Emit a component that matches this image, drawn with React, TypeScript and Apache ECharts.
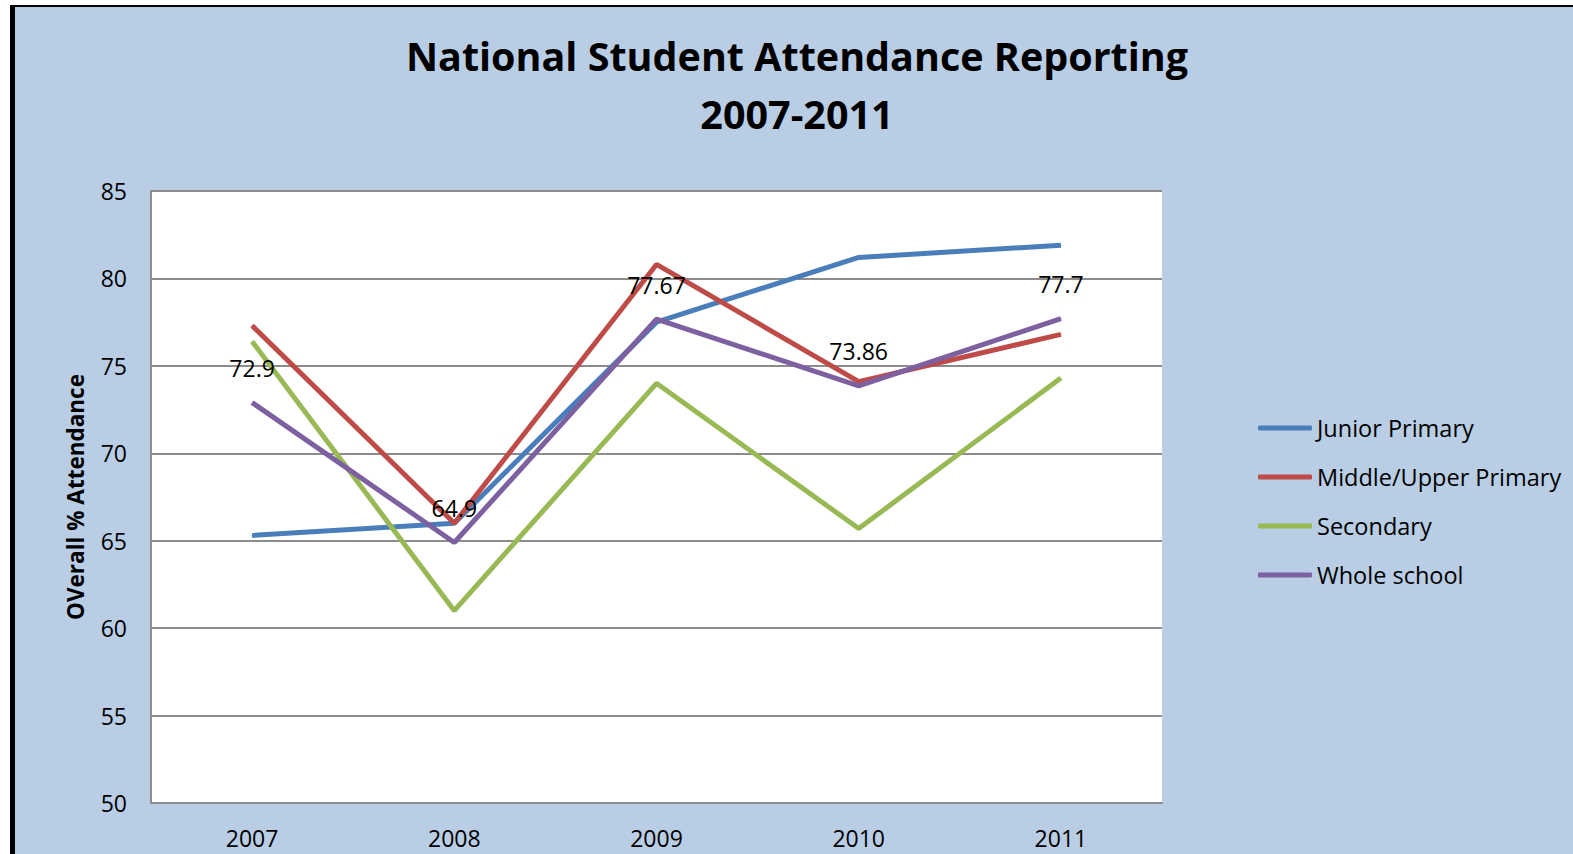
import React, { useEffect, useRef } from "react";
import * as echarts from "echarts";

const years = ["2007", "2008", "2009", "2010", "2011"];
const juniorPrimary = [65.3, 66.0, 77.5, 81.2, 81.9];
const middleUpperPrimary = [77.3, 66.0, 80.8, 74.1, 76.8];
const secondary = [76.4, 61.0, 74.0, 65.7, 74.3];
const wholeSchool = [72.9, 64.9, 77.67, 73.86, 77.7];
const seriesNames = ["Junior Primary", "Middle/Upper Primary", "Secondary", "Whole school"];
const seriesColors = ["#4A7EBB", "#BE4B48", "#98B954", "#7D60A0"];

const FONT = "'Open Sans', Lato, sans-serif";

export default function App() {
  const ref = useRef<HTMLDivElement>(null);
  useEffect(() => {
    if (!ref.current) return;
    const chart = echarts.init(ref.current, undefined, { renderer: "svg" });
    const data = [juniorPrimary, middleUpperPrimary, secondary, wholeSchool];
    chart.setOption({
      animation: false,
      backgroundColor: "#B9CDE5",
      textStyle: { fontFamily: FONT },
      title: {
        text: "National Student Attendance Reporting\n2007-2011",
        left: 782,
        top: 20,
        padding: 0,
        textAlign: "center",
        textStyle: {
          fontFamily: FONT,
          fontSize: 39.5,
          fontWeight: "bold",
          lineHeight: 58,
          color: "#000",
        },
      },
      grid: {
        left: 136,
        right: 411,
        top: 184,
        bottom: 51,
        show: true,
        backgroundColor: "#fff",
        borderWidth: 0,
      },
      legend: {
        orient: "vertical",
        left: 1238,
        top: 404,
        icon: "roundRect",
        itemWidth: 54,
        itemHeight: 5,
        itemGap: 25,
        data: seriesNames,
        textStyle: { fontFamily: FONT, fontSize: 23.5, color: "#000" },
      },
      xAxis: {
        type: "category",
        data: years,
        boundaryGap: true,
        axisLine: { show: true, lineStyle: { color: "#8c8c8c", width: 2 } },
        axisTick: { show: false },
        axisLabel: { fontFamily: FONT, fontSize: 23, color: "#000", margin: 23 },
      },
      yAxis: {
        type: "value",
        min: 50,
        max: 85,
        interval: 5,
        name: "OVerall % Attendance",
        nameLocation: "middle",
        nameRotate: 90,
        nameGap: 64,
        nameTextStyle: { fontFamily: FONT, fontSize: 22.5, fontWeight: "bold", color: "#000" },
        axisLine: { show: true, lineStyle: { color: "#8c8c8c", width: 2 } },
        axisTick: { show: false },
        axisLabel: { fontFamily: FONT, fontSize: 23, color: "#000", margin: 24 },
        splitLine: { show: true, lineStyle: { color: "#8c8c8c", width: 2 } },
      },
      series: seriesNames.map((name, i) => ({
        name,
        type: "line",
        data: data[i],
        symbol: "circle",
        symbolSize: 1,
        showSymbol: true,
        color: seriesColors[i],
        itemStyle: { color: seriesColors[i] },
        lineStyle: { color: seriesColors[i], width: 5 },
        z: 3 + i,
        label:
          i === 3
            ? {
                show: true,
                position: "top",
                distance: 22.5,
                fontFamily: FONT,
                fontSize: 23,
                color: "#000",
              }
            : { show: false },
      })),
    });
    return () => chart.dispose();
  }, []);

  return (
    <div
      style={{
        position: "absolute",
        left: 0,
        top: 0,
        width: 1573,
        height: 854,
        background: "#fff",
        overflow: "hidden",
      }}
    >
      <div
        style={{
          position: "absolute",
          left: 10,
          top: 5,
          width: 1563,
          height: 849,
          borderLeft: "5px solid #000",
          borderTop: "2px solid #000",
          boxSizing: "border-box",
        }}
      >
        <div ref={ref} style={{ width: 1558, height: 847 }} />
      </div>
    </div>
  );
}
